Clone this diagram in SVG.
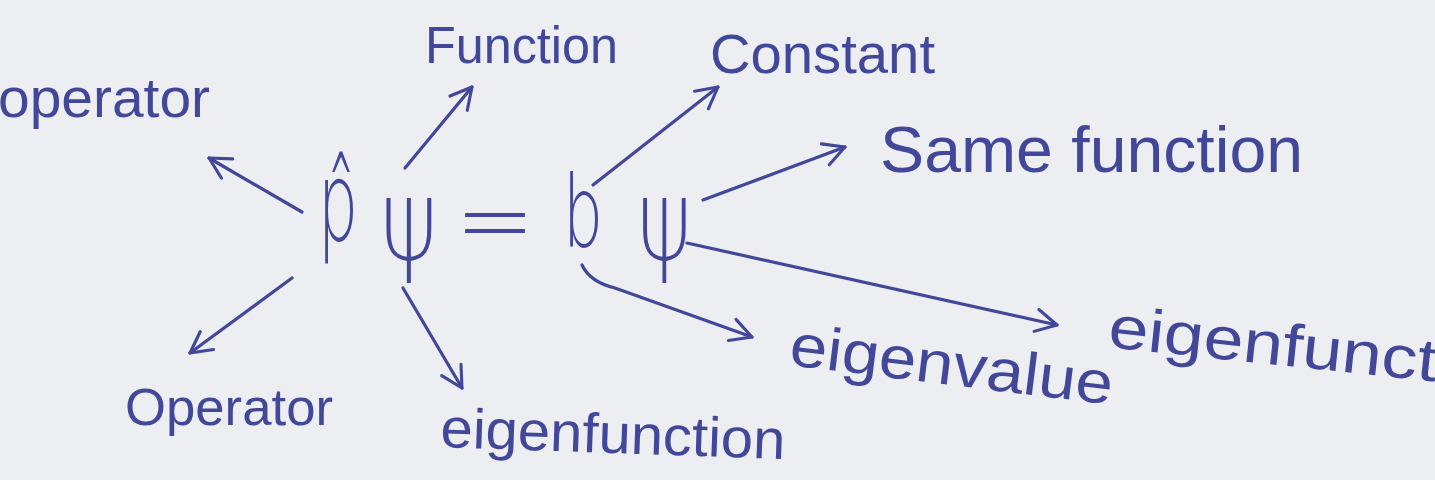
<svg xmlns="http://www.w3.org/2000/svg" width="1435" height="480" viewBox="0 0 1435 480">
  <defs>
    <marker id="head" viewBox="0 0 20 20" refX="18" refY="10" markerWidth="28" markerHeight="28" markerUnits="userSpaceOnUse" orient="auto">
      <path d="M3,2 L18,10 L3,18" fill="none" stroke="#43479a" stroke-width="2.2" stroke-linecap="round" stroke-linejoin="round"/>
    </marker>
    <style>
      .ink { fill: #43479a; font-family: "Liberation Sans", "DejaVu Sans", sans-serif; }
      .eq { fill: #43479a; font-family: "DejaVu Sans", "Liberation Sans", sans-serif; font-weight: 200; }
      .arrow { fill: none; stroke: #43479a; stroke-width: 3.2; stroke-linecap: round; marker-end: url(#head); }
    </style>
  </defs>
  <rect width="1435" height="480" fill="#eceef2"/>

  <g id="equation">
    <text class="eq" x="318" y="240" font-size="110" textLength="40" lengthAdjust="spacingAndGlyphs">p̂</text>
    <text class="eq" x="380" y="260" font-size="112" textLength="58" lengthAdjust="spacingAndGlyphs">ψ</text>
    <text class="eq" x="455" y="254" font-size="100" textLength="80" lengthAdjust="spacingAndGlyphs">=</text>
    <text class="eq" x="563" y="247" font-size="100" textLength="40" lengthAdjust="spacingAndGlyphs">b</text>
    <text class="eq" x="637" y="260" font-size="112" textLength="55" lengthAdjust="spacingAndGlyphs">ψ</text>
  </g>

  <g id="operator-top">
    <text class="ink" x="-2" y="117" font-size="56" textLength="212" lengthAdjust="spacingAndGlyphs">operator</text>
  </g>
  <g id="function">
    <text class="ink" x="425" y="63" font-size="52" textLength="193" lengthAdjust="spacingAndGlyphs">Function</text>
  </g>
  <g id="constant">
    <text class="ink" x="710" y="73" font-size="56" textLength="225" lengthAdjust="spacingAndGlyphs">Constant</text>
  </g>
  <g id="same-function">
    <text class="ink" x="880" y="172" font-size="64" textLength="423" lengthAdjust="spacingAndGlyphs">Same function</text>
  </g>
  <g id="operator-bottom">
    <text class="ink" x="125" y="425" font-size="52" textLength="208" lengthAdjust="spacingAndGlyphs">Operator</text>
  </g>
  <g id="eigenfunction-bottom">
    <text class="ink" x="440" y="447" font-size="56" textLength="345" lengthAdjust="spacingAndGlyphs" transform="rotate(2 440 447)">eigenfunction</text>
  </g>
  <g id="eigenvalue">
    <text class="ink" x="788" y="365" font-size="60" textLength="325" lengthAdjust="spacingAndGlyphs" transform="rotate(7 788 365)">eigenvalue</text>
  </g>
  <g id="eigenfunction-right">
    <text class="ink" x="1107" y="347" font-size="60" textLength="330" lengthAdjust="spacingAndGlyphs" transform="rotate(6 1107 347)">eigenfunct</text>
  </g>

  <g id="connectors">
    <path class="arrow" d="M302,212 L209,158"/>
    <path class="arrow" d="M405,168 L472,87"/>
    <path class="arrow" d="M593,185 L718,87"/>
    <path class="arrow" d="M703,200 L845,147"/>
    <path class="arrow" d="M292,278 L190,353"/>
    <path class="arrow" d="M403,288 L462,388"/>
    <path class="arrow" d="M582,265 Q590,282 615,288 L752,337"/>
    <path class="arrow" d="M687,243 L1057,325"/>
  </g>
</svg>
